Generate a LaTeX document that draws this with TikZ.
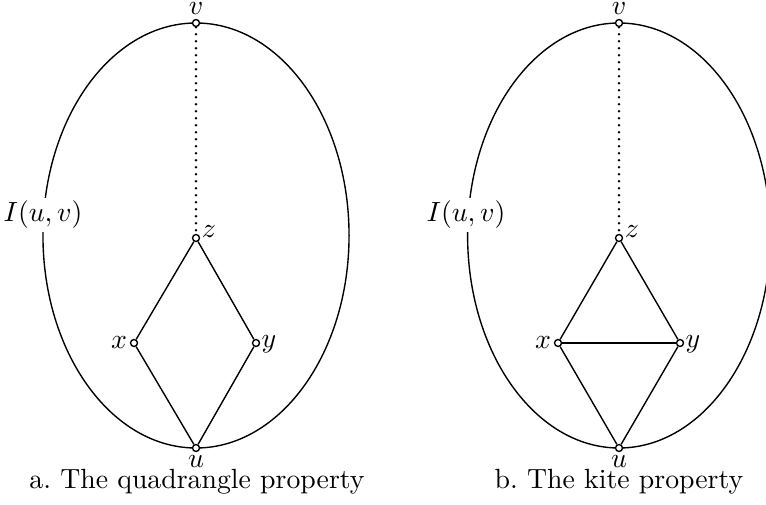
\documentclass[tikz,border=0pt]{standalone}
\begin{document}
\begin{tikzpicture}[x=0.36pt,y=-0.36pt,
  vtx/.style={circle,draw,fill=white,inner sep=0pt,minimum size=2.5pt,line width=0.5pt},
  edge/.style={line width=0.5pt},
  dotpath/.style={line width=1pt,line cap=round,dash pattern=on 0pt off 2.52pt},
  lbl/.style={inner sep=0pt}]
\useasboundingbox (0,0) rectangle (766,505);
\begin{scope}
\clip (0,0) rectangle (766,505);
\draw[edge] (196,235.5) ellipse [x radius=55.1pt, y radius=76.5pt];
\draw[edge] (619,235.5) ellipse [x radius=54.5pt, y radius=76.5pt];
\end{scope}
\node[fill=white,inner sep=1pt] (Ia) at (43,215) {$I(u,v)$};
\node[fill=white,inner sep=1pt] (Ib) at (466,215) {$I(u,v)$};
% left vertices
\node[vtx] (va) at (196,23) {};
\node[vtx] (za) at (196,238) {};
\node[vtx] (xa) at (134,343) {};
\node[vtx] (ya) at (256,343) {};
\node[vtx] (ua) at (196,448) {};
\draw[dotpath] (va) -- (za);
\draw[edge] (za) -- (xa) -- (ua) -- (ya) -- (za);
\node[lbl] (lva) at (196,9) {$v$};
\node[lbl] (lza) at (209,232) {$z$};
\node[lbl] (lxa) at (119,343) {$x$};
\node[lbl] (lya) at (269,344) {$y$};
\node[lbl] (lua) at (196,462) {$u$};
\node (capa) at (197,482) {a.\ The quadrangle property};
% right vertices
\node[vtx] (vb) at (619,23) {};
\node[vtx] (zb) at (619,238) {};
\node[vtx] (xb) at (558,343) {};
\node[vtx] (yb) at (680,343) {};
\node[vtx] (ub) at (619,448) {};
\draw[dotpath] (vb) -- (zb);
\draw[edge] (zb) -- (xb) -- (ub) -- (yb) -- (zb);
\draw[edge] (xb) -- (yb);
\node[lbl] (lvb) at (619,9) {$v$};
\node[lbl] (lzb) at (632,232) {$z$};
\node[lbl] (lxb) at (543,343) {$x$};
\node[lbl] (lyb) at (693,344) {$y$};
\node[lbl] (lub) at (619,462) {$u$};
\node (capb) at (619,482) {b.\ The kite property};
\end{tikzpicture}
\end{document}
